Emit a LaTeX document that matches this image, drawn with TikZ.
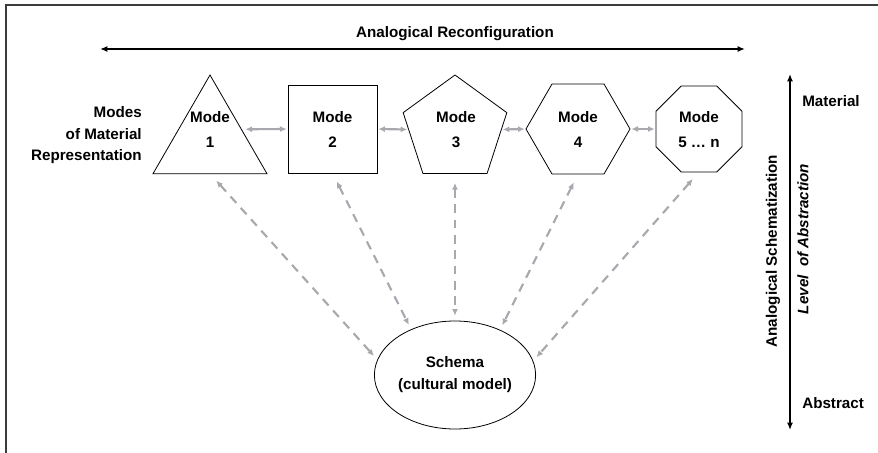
\documentclass[tikz,border=0pt]{standalone}
\usepackage{fontspec}
\setmainfont{Liberation Sans}
\usetikzlibrary{shapes.geometric,arrows.meta,calc}
\definecolor{linkgray}{RGB}{168,169,174}
\definecolor{framegray}{RGB}{60,60,60}

\begin{document}
\begin{tikzpicture}[x=0.75pt,y=-0.75pt,
  font=\bfseries\fontsize{11.4}{14}\selectfont,
  shapeline/.style={draw=black, line width=0.6pt, inner sep=0pt, outer sep=0pt},
  modetext/.style={align=center, inner sep=0pt, font=\bfseries\fontsize{11.4}{18.75}\selectfont},
  link/.style={draw=linkgray, line width=1.6pt,
    {Latex[length=5pt,width=4.5pt]}-{Latex[length=5pt,width=4.5pt]}},
  dashlink/.style={link, dash pattern=on 6.5pt off 5pt, shorten <=7pt, shorten >=4pt},
  axis/.style={draw=black, line width=1.3pt,
    {Latex[length=5.5pt,width=4.5pt]}-{Latex[length=5.5pt,width=4.5pt]}},
  sidetext/.style={inner sep=0pt},
]
\useasboundingbox (0,0) rectangle (878,453);

% frame (top and left edges)
\draw[framegray, line width=1.5pt] (6,453) -- (6,5) -- (878,5);

% horizontal axis: analogical reconfiguration
\coordinate (recL) at (100,49);
\coordinate (recR) at (745,49);
\draw[axis] (recL) -- (recR);
\node[sidetext] (rectext) at (455,34) {Analogical Reconfiguration};

% modes of material representation
\node[shapeline, regular polygon, regular polygon sides=3, minimum size=98.7pt] (tri) at (210,140.8) {};
\node[shapeline, rectangle, minimum width=66.75pt, minimum height=66pt] (sq) at (332.5,129) {};
\node[shapeline, regular polygon, regular polygon sides=5, minimum size=81.75pt] (pent) at (455,129.5) {};
\node[shapeline, regular polygon, regular polygon sides=6, minimum size=78pt] (hex) at (578,129) {};
\node[shapeline, regular polygon, regular polygon sides=8, minimum size=69.75pt] (oct) at (699,129) {};

\node[modetext] (m1) at (210,129.5) {Mode\\1};
\node[modetext] (m2) at (332.5,129.5) {Mode\\2};
\node[modetext] (m3) at (456,129.5) {Mode\\3};
\node[modetext] (m4) at (578,129.5) {Mode\\4};
\node[modetext] (m5) at (699,129.5) {Mode\\5 \dots\ n};

\node[align=right, inner sep=0pt, anchor=east,
      font=\bfseries\fontsize{11.4}{16.1}\selectfont] (modes) at (142,135.5)
      {Modes\\of Material\\Representation};

% links between neighbouring modes
\coordinate (triR) at ($(tri.corner 1)!0.55!(tri.corner 3)$);
\draw[link, shorten <=3pt, shorten >=1pt] (triR) -- (sq.west);
\draw[link, shorten <=1pt, shorten >=1pt] (sq.east) -- (pent.west);
\draw[link, shorten <=1pt, shorten >=1pt] (pent.east) -- (hex.west);
\draw[link, shorten <=1pt, shorten >=1pt] (hex.east) -- (oct.west);

% schema
\node[shapeline, ellipse, minimum width=118.5pt, minimum height=81pt,
      align=center, font=\bfseries\fontsize{11.4}{16.5}\selectfont] (schema) at (455,375)
      {Schema\\(cultural model)};

% schematization links
\draw[dashlink] (tri.south) -- (schema.169);
\draw[dashlink] (sq.south) -- (schema.134);
\draw[dashlink] (pent.south) -- (schema.90);
\draw[dashlink] (hex.south) -- (schema.45);
\draw[dashlink] (oct.south) -- (schema.10);

% vertical axis: level of abstraction
\coordinate (absTop) at (790,74);
\coordinate (absBot) at (790,430);
\draw[axis] (absTop) -- (absBot);
\node[sidetext, rotate=90] (schemtext) at (773,251) {Analogical Schematization};
\node[sidetext, rotate=90, font=\bfseries\itshape\fontsize{11.4}{14}\selectfont] (leveltext) at (803,239) {Level\ \ of Abstraction};
\node[sidetext, anchor=west] (material) at (802,101) {Material};
\node[sidetext, anchor=west] (abstract) at (802,403) {Abstract};
\end{tikzpicture}
\end{document}
